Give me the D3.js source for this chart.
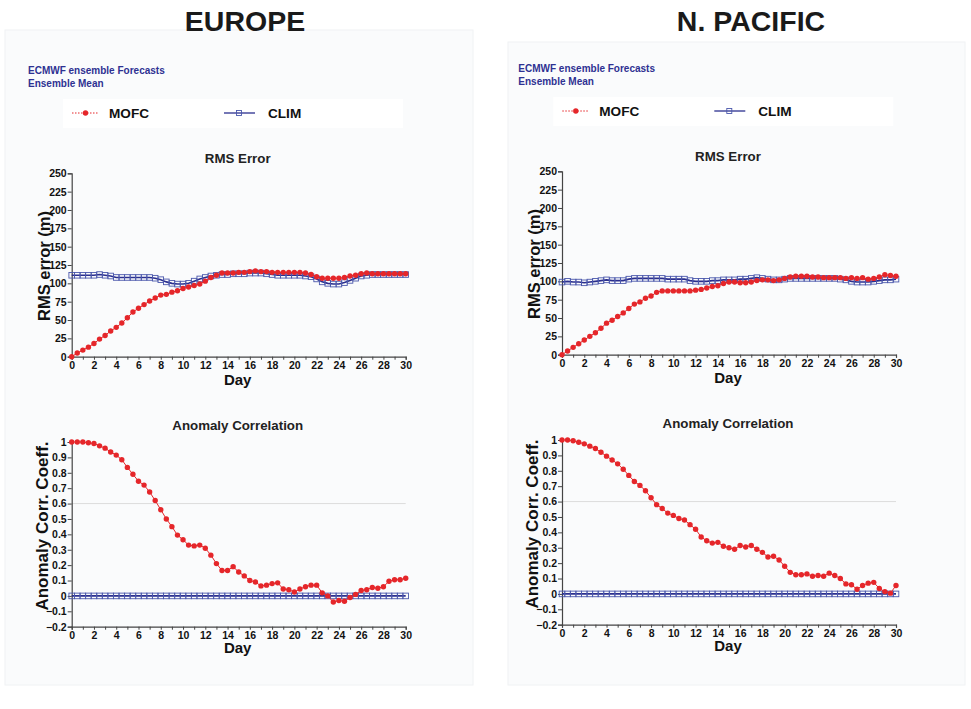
<!DOCTYPE html>
<html>
<head>
<meta charset="utf-8">
<script src="https://cdn.jsdelivr.net/npm/d3@7"></script>
<style>
  html, body { margin: 0; padding: 0; background: #ffffff; }
  svg { display: block; font-family: "Liberation Sans", Arial, Helvetica, sans-serif; }
</style>
</head>
<body>
<svg id="chart" width="971" height="709"></svg>
<script>
// Forecast lead time in days, every half day from 0 to 30
const days = d3.range(0, 30.01, 0.5);

const rmsTicks = [0, 25, 50, 75, 100, 125, 150, 175, 200, 225, 250];
const acTicks = [-0.2, -0.1, 0, 0.1, 0.2, 0.3, 0.4, 0.5, 0.6, 0.7, 0.8, 0.9, 1];
const dayTicks = [0, 2, 4, 6, 8, 10, 12, 14, 16, 18, 20, 22, 24, 26, 28, 30];

// Europe: RMS error (m)
const europeRmsMofc = [0, 5, 9, 13, 18, 24, 29, 35, 40, 46, 53, 61, 66, 71, 76, 80, 84, 85, 88, 90,
  93, 95, 97, 99, 103, 108, 111, 114, 114, 114, 115, 115, 116, 117, 116, 116, 115, 115, 115, 115,
  115, 115, 114, 112, 109, 107, 107, 107, 107, 108, 110, 111, 113, 114, 113, 113, 113, 113, 113, 113, 113];
const europeRmsClim = [111, 111, 111, 111, 111, 112, 111, 110, 108, 108, 108, 108, 108, 108, 108, 107,
  105, 102, 100, 99, 99, 100, 103, 106, 108, 110, 111, 112, 112, 113, 113, 113, 114, 114, 114, 113,
  112, 111, 111, 111, 111, 111, 110, 109, 106, 102, 100, 99, 99, 101, 104, 107, 110, 111, 112, 112,
  112, 112, 112, 112, 112];

// Europe: anomaly correlation
const europeAcMofc = [1.0, 1.0, 1.0, 0.995, 0.99, 0.975, 0.96, 0.935, 0.915, 0.885, 0.835, 0.79, 0.745,
  0.72, 0.675, 0.62, 0.56, 0.5, 0.45, 0.395, 0.365, 0.33, 0.325, 0.33, 0.31, 0.265, 0.21, 0.165, 0.165,
  0.19, 0.155, 0.13, 0.1, 0.09, 0.065, 0.07, 0.08, 0.085, 0.045, 0.04, 0.025, 0.045, 0.06, 0.07, 0.07,
  0.02, 0.0, -0.04, -0.03, -0.035, -0.01, 0.01, 0.035, 0.04, 0.055, 0.05, 0.06, 0.095, 0.105, 0.105, 0.115];
const europeAcClim = [0, 0, 0, 0, 0, 0, 0, 0, 0, 0, 0, 0, 0, 0, 0, 0, 0, 0, 0, 0, 0, 0, 0, 0, 0, 0, 0, 0, 0, 0, 0,
  0, 0, 0, 0, 0, 0, 0, 0, 0, 0, 0, 0, 0, 0, 0, 0, 0, 0, 0, 0, 0, 0, 0, 0, 0, 0, 0, 0, 0, 0];

// North Pacific: RMS error (m)
const pacificRmsMofc = [0, 5, 10, 15, 20, 25, 30, 36, 43, 47, 52, 57, 63, 69, 72, 77, 80, 85, 87, 87,
  87, 87, 87, 87, 88, 89, 91, 93, 94, 97, 99, 99, 98, 98, 99, 101, 102, 102, 101, 102, 104, 106, 107,
  107, 107, 106, 106, 105, 105, 105, 105, 104, 105, 104, 105, 103, 104, 106, 109, 108, 107];
const pacificRmsClim = [99, 100, 99, 99, 98, 99, 100, 101, 102, 101, 101, 101, 103, 104, 104, 104, 104,
  104, 104, 103, 103, 103, 103, 101, 100, 100, 100, 101, 101, 102, 102, 102, 103, 103, 104, 105, 104,
  103, 102, 102, 103, 104, 104, 104, 104, 104, 104, 104, 104, 104, 103, 102, 100, 99, 99, 99, 100, 101,
  102, 102, 103];

// North Pacific: anomaly correlation
const pacificAcMofc = [1.0, 1.0, 0.995, 0.985, 0.975, 0.96, 0.945, 0.92, 0.895, 0.87, 0.845, 0.81, 0.77,
  0.73, 0.705, 0.67, 0.625, 0.58, 0.555, 0.525, 0.51, 0.49, 0.48, 0.45, 0.42, 0.37, 0.345, 0.33, 0.335,
  0.31, 0.3, 0.29, 0.315, 0.305, 0.315, 0.29, 0.27, 0.24, 0.245, 0.22, 0.18, 0.14, 0.125, 0.125, 0.13,
  0.115, 0.12, 0.115, 0.135, 0.12, 0.1, 0.065, 0.06, 0.03, 0.055, 0.07, 0.075, 0.035, 0.015, 0.005, 0.055];
const pacificAcClim = [0, 0, 0, 0, 0, 0, 0, 0, 0, 0, 0, 0, 0, 0, 0, 0, 0, 0, 0, 0, 0, 0, 0, 0, 0, 0, 0, 0, 0, 0, 0,
  0, 0, 0, 0, 0, 0, 0, 0, 0, 0, 0, 0, 0, 0, 0, 0, 0, 0, 0, 0, 0, 0, 0, 0, 0, 0, 0, 0, 0, 0];

const regions = [
  { name: "EUROPE", dx: 0, dy: 0, titleX: 245,
    rms: [europeRmsMofc, europeRmsClim], ac: [europeAcMofc, europeAcClim],
    bg: [5, 30, 468, 655] },
  { name: "N. PACIFIC", dx: 490.3, dy: -2, titleX: 751,
    rms: [pacificRmsMofc, pacificRmsClim], ac: [pacificAcMofc, pacificAcClim],
    bg: [508, 42, 457, 643] }
];

const RED = "#e5262a";
const BLUE = "#2b2f8e";
const SUBBLUE = "#2e3192";

const svg = d3.select("#chart");

function fmtAc(v) {
  if (Math.abs(v) < 1e-9) return "0";
  if (Math.abs(v - 1) < 1e-9) return "1";
  return d3.format(".1f")(v);
}

function drawPlot(g, cfg) {
  const x = d3.scaleLinear().domain([0, 30]).range([cfg.x0, cfg.x1]);
  const y = d3.scaleLinear().domain(cfg.domain).range([cfg.yBottom, cfg.yTop]);

  // reference line
  if (cfg.refLine !== undefined) {
    g.append("line")
      .attr("x1", x(0)).attr("x2", x(30))
      .attr("y1", y(cfg.refLine)).attr("y2", y(cfg.refLine))
      .attr("stroke", "#dcdcdc").attr("stroke-width", 1);
  }

  // y axis
  const yAxis = g.append("g")
    .attr("transform", `translate(${x(0)},0)`)
    .call(d3.axisLeft(y).tickValues(cfg.ticks).tickSize(4).tickPadding(1).tickFormat(cfg.fmt));
  // x axis
  const xAxis = g.append("g")
    .attr("transform", `translate(0,${y(cfg.domain[0])})`)
    .call(d3.axisBottom(x).tickValues(d3.range(0, 31, 1)).tickSize(3).tickPadding(1)
      .tickFormat(d => (d % 2 === 0 ? d : "")));
  [yAxis, xAxis].forEach(a => {
    a.select(".domain").attr("stroke", "#444").attr("stroke-width", 1.2);
    a.selectAll(".tick line").attr("stroke", "#444");
    a.selectAll(".tick text")
      .attr("fill", "#111").attr("font-size", "10.5px").attr("font-weight", "bold")
      .attr("font-family", "'Liberation Sans', Arial, sans-serif");
  });
  xAxis.selectAll(".tick text").attr("dy", "0.75em");

  const [mofc, clim] = cfg.series;

  // CLIM series: line with open squares
  const climLine = d3.line().x((d, i) => x(days[i])).y(d => y(d));
  g.append("path").datum(clim)
    .attr("d", climLine).attr("fill", "none")
    .attr("stroke", BLUE).attr("stroke-width", 1.6);
  g.selectAll(null).data(clim).enter().append("rect")
    .attr("x", (d, i) => x(days[i]) - 2.8).attr("y", d => y(d) - 2.8)
    .attr("width", 5.6).attr("height", 5.6)
    .attr("fill", "none").attr("stroke", "#4b58ac").attr("stroke-width", 0.9);

  // MOFC series: line with filled dots
  g.append("path").datum(mofc)
    .attr("d", climLine).attr("fill", "none")
    .attr("stroke", RED).attr("stroke-width", 1);
  g.selectAll(null).data(mofc).enter().append("circle")
    .attr("cx", (d, i) => x(days[i])).attr("cy", d => y(d))
    .attr("r", 2.7).attr("fill", RED);

  // titles
  g.append("text")
    .attr("x", (cfg.x0 + cfg.x1) / 2 - 1).attr("y", cfg.titleY)
    .attr("text-anchor", "middle").attr("font-weight", "bold").attr("font-size", "13.3px")
    .attr("fill", "#222").text(cfg.title);
  g.append("text")
    .attr("x", (cfg.x0 + cfg.x1) / 2 - 1).attr("y", cfg.dayY)
    .attr("text-anchor", "middle").attr("font-weight", "bold").attr("font-size", "15px")
    .attr("fill", "#111").text("Day");
  g.append("text")
    .attr("transform", `translate(${cfg.labelX},${cfg.labelY}) rotate(-90)`)
    .attr("text-anchor", "middle").attr("font-weight", "bold").attr("font-size", cfg.labelSize)
    .attr("fill", "#111").text(cfg.label);
}

regions.forEach(r => {
  const g = svg.append("g");
  // panel background
  g.append("rect")
    .attr("x", r.bg[0]).attr("y", r.bg[1]).attr("width", r.bg[2]).attr("height", r.bg[3])
    .attr("fill", "#fafbfc").attr("stroke", "#f0f2f4").attr("stroke-width", 1);

  // region title
  svg.append("text")
    .attr("x", r.titleX).attr("y", 31)
    .attr("text-anchor", "middle").attr("font-weight", "bold").attr("font-size", "28.5px")
    .attr("fill", "#1a1a1a").text(r.name);

  const p = g.append("g").attr("transform", `translate(${r.dx},${r.dy})`);

  // subtitle
  p.append("text").attr("x", 28).attr("y", 74)
    .attr("font-weight", "bold").attr("font-size", "10px").attr("fill", SUBBLUE)
    .text("ECMWF ensemble Forecasts");
  p.append("text").attr("x", 28).attr("y", 86.5)
    .attr("font-weight", "bold").attr("font-size", "10px").attr("fill", SUBBLUE)
    .text("Ensemble Mean");

  // legend
  p.append("rect").attr("x", 63).attr("y", 99).attr("width", 340).attr("height", 29)
    .attr("fill", "#ffffff");
  const ly = 113;
  p.append("line").attr("x1", 72).attr("x2", 99).attr("y1", ly).attr("y2", ly)
    .attr("stroke", RED).attr("stroke-width", 1).attr("stroke-dasharray", "1.5,1.5");
  p.append("circle").attr("cx", 85.5).attr("cy", ly).attr("r", 2.7).attr("fill", RED);
  p.append("text").attr("x", 109).attr("y", ly + 5)
    .attr("font-weight", "bold").attr("font-size", "13.6px").attr("fill", "#111").text("MOFC");
  p.append("line").attr("x1", 224).attr("x2", 255).attr("y1", ly).attr("y2", ly)
    .attr("stroke", BLUE).attr("stroke-width", 1.3);
  p.append("rect").attr("x", 236.5).attr("y", ly - 2.5).attr("width", 5).attr("height", 5)
    .attr("fill", "none").attr("stroke", "#4b58ac").attr("stroke-width", 0.9);
  p.append("text").attr("x", 268).attr("y", ly + 5)
    .attr("font-weight", "bold").attr("font-size", "13.6px").attr("fill", "#111").text("CLIM");

  // RMS error plot
  drawPlot(p, {
    x0: 71.7, x1: 405.7, yTop: 173.3, yBottom: 356.7,
    domain: [0, 250], ticks: rmsTicks, fmt: d3.format("d"),
    series: r.rms, title: "RMS Error", titleY: 162.5, dayY: 385,
    label: "RMS error (m)", labelX: 50, labelY: 266, labelSize: "16.5px"
  });

  // Anomaly correlation plot
  drawPlot(p, {
    x0: 71.7, x1: 405.7, yTop: 442, yBottom: 626.7,
    domain: [-0.2, 1], ticks: acTicks, fmt: fmtAc,
    series: r.ac, title: "Anomaly Correlation", titleY: 429.5, dayY: 653,
    label: "Anomaly Corr. Coeff.", labelX: 47.5, labelY: 526, labelSize: "17px",
    refLine: 0.6
  });
});
</script>
</body>
</html>
